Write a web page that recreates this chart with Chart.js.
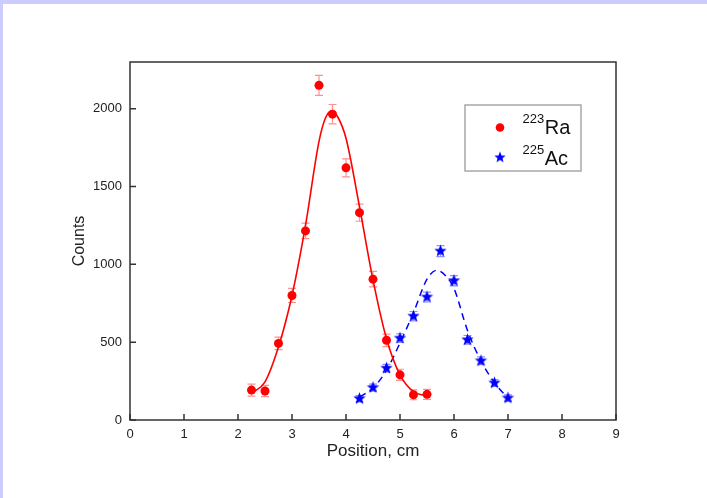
<!DOCTYPE html>
<html><head><meta charset="utf-8">
<script src="https://cdn.jsdelivr.net/npm/chart.js@4.4.1/dist/chart.umd.min.js"></script>
<style>
html,body{margin:0;padding:0;background:#ccccff;}
#wrap{position:relative;width:707px;height:498px;overflow:hidden;}
#white{position:absolute;left:3px;top:4px;right:0;bottom:0;background:#fff;}
canvas{position:absolute;left:0;top:0;}
</style></head><body>
<div id="wrap"><div id="white"></div><canvas id="c" width="707" height="498"></canvas></div>
<script>
// ---- data ----
const positionsRa = [2.25, 2.5, 2.75, 3.0, 3.25, 3.5, 3.75, 4.0, 4.25, 4.5, 4.75, 5.0, 5.25, 5.5];
const countsRa    = [192, 186, 492, 800, 1215, 2150, 1965, 1620, 1332, 905, 512, 290, 162, 165];
const errorsRa    = [38, 36, 40, 45, 50, 64, 62, 58, 55, 50, 40, 36, 32, 32];

const positionsAc = [4.25, 4.5, 4.75, 5.0, 5.25, 5.5, 5.75, 6.0, 6.25, 6.5, 6.75, 7.0];
const countsAc    = [137, 208, 333, 526, 667, 790, 1085, 895, 515, 380, 238, 141];
const errorsAc    = [20, 22, 25, 28, 30, 32, 35, 33, 28, 25, 22, 20];

const fitRaX = [2.28, 2.5, 2.75, 3.0, 3.25, 3.5, 3.62, 3.73, 3.85, 4.0, 4.25, 4.5, 4.75, 5.0, 5.25, 5.5];
const fitRaY = [178, 245, 470, 800, 1250, 1790, 1940, 1985, 1945, 1810, 1370, 900, 522, 290, 182, 155];

const fitAcX = [4.25, 4.5, 4.75, 5.0, 5.25, 5.5, 5.68, 5.85, 6.0, 6.25, 6.5, 6.75, 7.0];
const fitAcY = [148, 205, 320, 495, 690, 905, 962, 925, 845, 575, 380, 240, 140];

const xTickValues = [0, 1, 2, 3, 4, 5, 6, 7, 8, 9];
const yTickValues = [0, 500, 1000, 1500, 2000];
const legendIsotopes = ['223', '225'];
const legendSymbols = ['Ra', 'Ac'];

const FONT = "'Liberation Sans', Arial, sans-serif";
const TXT = '#222';

// filled five-point star marker
function makeStar(color, R, r) {
  const s = Math.ceil(R * 2) + 2;
  const c = document.createElement('canvas');
  c.width = s; c.height = s;
  const g = c.getContext('2d');
  g.fillStyle = color;
  g.beginPath();
  for (let i = 0; i < 10; i++) {
    const rad = i % 2 === 0 ? R : r;
    const a = -Math.PI / 2 + i * Math.PI / 5;
    const px = s / 2 + rad * Math.cos(a), py = s / 2 + rad * Math.sin(a);
    if (i === 0) g.moveTo(px, py); else g.lineTo(px, py);
  }
  g.closePath();
  g.fill();
  return c;
}
const starImg = makeStar('#0000ff', 6.5, 2.8);
const legendStar = makeStar('#0000ff', 6, 2.6);

const zip = (xs, ys) => xs.map((x, i) => ({x: x, y: ys[i]}));

const framePlugin = {
  id: 'frame',
  beforeDatasetsDraw(chart) {
    const {ctx, scales: {x, y}} = chart;
    chart.data.datasets.forEach(ds => {
      if (!ds.errors) return;
      ctx.save();
      ctx.strokeStyle = ds.errorColor;
      ctx.lineWidth = 1.2;
      ds.data.forEach((p, j) => {
        const px = x.getPixelForValue(p.x);
        const t = y.getPixelForValue(p.y + ds.errors[j]);
        const b = y.getPixelForValue(p.y - ds.errors[j]);
        ctx.beginPath();
        ctx.moveTo(px, t); ctx.lineTo(px, b);
        ctx.moveTo(px - 4, t); ctx.lineTo(px + 4, t);
        ctx.moveTo(px - 4, b); ctx.lineTo(px + 4, b);
        ctx.stroke();
      });
      ctx.restore();
    });
  },
  afterDraw(chart) {
    const {ctx, chartArea: a, scales: {x, y}} = chart;
    ctx.save();
    ctx.strokeStyle = '#333';
    ctx.lineWidth = 1.5;
    ctx.strokeRect(a.left, a.top, a.right - a.left, a.bottom - a.top);
    ctx.beginPath();
    x.ticks.forEach(t => {
      const px = x.getPixelForValue(t.value);
      ctx.moveTo(px, a.bottom); ctx.lineTo(px, a.bottom - 6);
    });
    y.ticks.forEach(t => {
      const py = y.getPixelForValue(t.value);
      ctx.moveTo(a.left, py); ctx.lineTo(a.left + 6, py);
    });
    ctx.stroke();

    // legend
    const lx = 465, ly = 105, lw = 116, lh = 66;
    ctx.strokeStyle = '#a8a8a8';
    ctx.lineWidth = 1.5;
    ctx.strokeRect(lx, ly, lw, lh);
    ctx.fillStyle = '#ff0000';
    ctx.beginPath(); ctx.arc(500, 127.5, 4.3, 0, Math.PI * 2); ctx.fill();
    ctx.drawImage(legendStar, 500 - legendStar.width / 2, 157.5 - legendStar.height / 2);
    ctx.fillStyle = '#111';
    ctx.textBaseline = 'alphabetic';
    ctx.textAlign = 'left';
    const rows = [134, 165];
    legendSymbols.forEach((sym, i) => {
      ctx.font = '13px ' + FONT;
      ctx.fillText(legendIsotopes[i], 522.5, rows[i] - 11);
      const w = ctx.measureText(legendIsotopes[i]).width;
      ctx.font = '20px ' + FONT;
      ctx.fillText(sym, 522.5 + w + 0.5, rows[i]);
    });
    ctx.restore();
  }
};

new Chart(document.getElementById('c'), {
  type: 'scatter',
  data: {
    datasets: [
      {
        label: '223Ra', data: zip(positionsRa, countsRa), errors: errorsRa,
        errorColor: 'rgba(255,70,70,0.6)',
        pointStyle: 'circle', pointRadius: 4.5, backgroundColor: '#ff0000', borderWidth: 0, showLine: false
      },
      {
        label: '225Ac', data: zip(positionsAc, countsAc), errors: errorsAc,
        errorColor: 'rgba(70,70,255,0.6)',
        pointStyle: starImg, pointRadius: 6, backgroundColor: '#0000ff', borderWidth: 0, showLine: false
      },
      {
        label: 'fitRa', data: zip(fitRaX, fitRaY), showLine: true, pointRadius: 0,
        borderColor: '#ff0000', borderWidth: 1.6, cubicInterpolationMode: 'monotone', fill: false
      },
      {
        label: 'fitAc', data: zip(fitAcX, fitAcY), showLine: true, pointRadius: 0,
        borderColor: '#0000ff', borderWidth: 1.5, borderDash: [7, 5], cubicInterpolationMode: 'monotone', fill: false
      }
    ]
  },
  options: {
    responsive: false,
    animation: false,
    devicePixelRatio: 1,
    layout: {padding: {left: 60, right: 91, top: 62, bottom: 28}},
    plugins: {legend: {display: false}, tooltip: {enabled: false}},
    scales: {
      x: {
        type: 'linear', min: 0, max: 9,
        grid: {display: false, drawTicks: false},
        border: {display: false},
        afterBuildTicks(s) { s.ticks = xTickValues.map(v => ({value: v})); },
        ticks: {padding: 7, color: TXT, font: {family: FONT, size: 13}, includeBounds: false, callback: v => String(v)},
        title: {display: true, text: 'Position, cm', color: TXT, font: {family: FONT, size: 17}, padding: {top: 0, bottom: 8}},
        afterFit(s) { s.height = 50; }
      },
      y: {
        type: 'linear', min: 0, max: 2300,
        grid: {display: false, drawTicks: false},
        border: {display: false},
        afterBuildTicks(s) { s.ticks = yTickValues.map(v => ({value: v})); },
        ticks: {padding: 8, color: TXT, font: {family: FONT, size: 13}, includeBounds: false, callback: v => String(v)},
        title: {display: true, text: 'Counts', color: TXT, font: {family: FONT, size: 16}, padding: {top: 10, bottom: 0}},
        afterFit(s) { s.width = 70; }
      }
    }
  },
  plugins: [framePlugin]
});
</script>
</body></html>
